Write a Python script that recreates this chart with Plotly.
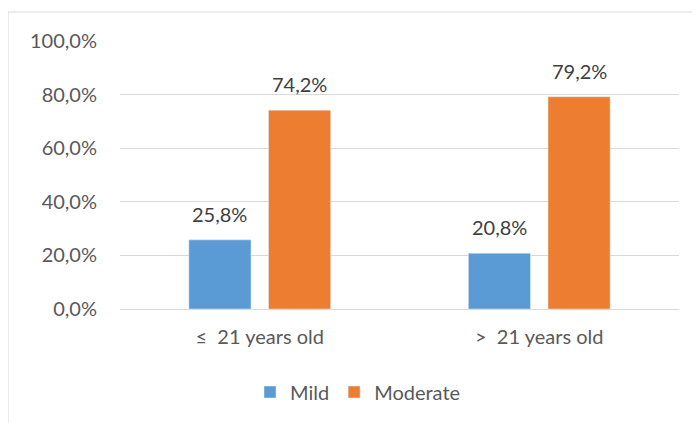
import plotly.graph_objects as go

categories = ["≤\u00a0 21 years old", ">\u00a0 21 years old"]
mild = [0.258, 0.208]
moderate = [0.742, 0.792]
tick_vals = [0, 0.2, 0.4, 0.6, 0.8, 1.0]

FONT = "Lato, Open Sans, sans-serif"
W, H = 700, 423
OFF = 8  # default page body margin
PL, PR, PT, PB = 120, 679, 41, 309  # plot area in page pixels
ml, mt = PL - OFF, PT - OFF
mr, mb = (W + OFF) - PR, (H + OFF) - PB
pw, ph = PR - PL, PB - PT

BARGAP, BARGROUPGAP = 0.43, 0.22
slot = (pw / len(categories)) * (1 - BARGAP) / 2

fig = go.Figure()
fig.add_trace(go.Bar(name="Mild", x=categories, y=mild, marker_color="#5B9BD5"))
fig.add_trace(go.Bar(name="Moderate", x=categories, y=moderate, marker_color="#ED7D31"))

def fmt(v):
    return f"{v * 100:.1f}%".replace(".", ",")

annotations = []
for series, shift in ((mild, -slot / 2), (moderate, slot / 2)):
    for c, v in zip(categories, series):
        annotations.append(dict(x=c, y=v, xref="x", yref="y", text=fmt(v), showarrow=False,
                                xshift=shift, yshift=26, yanchor="middle",
                                font=dict(size=20, color="#404040", family=FONT)))

fig.update_layout(
    width=W, height=H,
    margin=dict(l=ml, r=mr, t=mt, b=mb, pad=0),
    paper_bgcolor="white", plot_bgcolor="white",
    separators=",.",
    barmode="group", bargap=BARGAP, bargroupgap=BARGROUPGAP,
    font=dict(family=FONT, size=20, color="#595959"),
    showlegend=True,
    legend=dict(orientation="h", x=(358 - PL) / pw, xanchor="center",
                y=(PB - 392) / ph, yanchor="middle",
                font=dict(size=20, color="#595959"), itemwidth=30, traceorder="normal"),
    annotations=annotations,
    shapes=[dict(type="rect", xref="paper", yref="paper",
                 x0=(8 - PL) / pw, x1=1.3, y0=-0.8, y1=1 + (PT - 12) / ph,
                 line=dict(color="#d9d9d9", width=1), layer="below")],
)
fig.update_yaxes(range=[0, 1.0], tickvals=tick_vals, tickformat=".1%",
                 showgrid=True, gridcolor="#d9d9d9", gridwidth=1,
                 zeroline=True, zerolinecolor="#d9d9d9", zerolinewidth=1,
                 showline=False, ticks="", ticklabelstandoff=22,
                 tickfont=dict(size=20, color="#595959"))
fig.update_xaxes(showgrid=False, showline=False, ticks="",
                 tickfont=dict(size=20, color="#595959"), ticklabelstandoff=14)

fig.write_html("out.html")
